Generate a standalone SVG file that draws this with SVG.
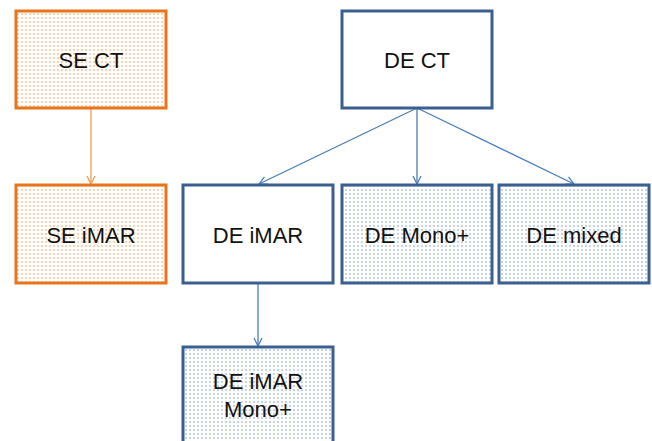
<svg xmlns="http://www.w3.org/2000/svg" width="652" height="441" viewBox="0 0 652 441">
<defs>
<pattern id="dotO" width="4" height="4" patternUnits="userSpaceOnUse"><rect width="4" height="4" fill="#fff"/><rect x="1" y="1" width="2" height="2" fill="#fad2b4"/></pattern>
<pattern id="dotB" width="4" height="4" patternUnits="userSpaceOnUse"><rect width="4" height="4" fill="#fff"/><rect x="1" y="1" width="2" height="2" fill="#c6d4e8"/></pattern>
<marker id="arrB" viewBox="0 0 10 10" refX="9" refY="5" markerWidth="10" markerHeight="10" markerUnits="userSpaceOnUse" orient="auto"><path d="M1,1 L9,5 L1,9" fill="none" stroke="#4a7ebb" stroke-width="1.3"/></marker>
<marker id="arrO" viewBox="0 0 10 10" refX="9" refY="5" markerWidth="10" markerHeight="10" markerUnits="userSpaceOnUse" orient="auto"><path d="M1,1 L9,5 L1,9" fill="none" stroke="#f59b57" stroke-width="1.3"/></marker>
</defs>
<style>
.bo{fill:url(#dotO);stroke:#e8741c;stroke-width:3}
.bb{fill:url(#dotB);stroke:#3b5f91;stroke-width:3}
.bw{fill:#fff;stroke:#3b5f91;stroke-width:3}
text{font-family:"Liberation Sans",Arial,sans-serif;font-size:22px;fill:#111;text-anchor:middle}
.cb{stroke:#4a7ebb;stroke-width:1.3;fill:none;marker-end:url(#arrB)}
.co{stroke:#f59b57;stroke-width:1.3;fill:none;marker-end:url(#arrO)}
</style>
<rect width="652" height="441" fill="#fff"/>
<g id="connectors">
<line class="co" x1="91" y1="108" x2="91" y2="184"/>
<line class="cb" x1="417" y1="108" x2="259" y2="184"/>
<line class="cb" x1="417" y1="108" x2="417" y2="184"/>
<line class="cb" x1="417" y1="108" x2="574" y2="184"/>
<line class="cb" x1="258" y1="283" x2="258" y2="346"/>
</g>
<g id="se-ct"><rect class="bo" x="16" y="11" width="150" height="97"/><text x="91" y="68">SE CT</text></g>
<g id="se-imar"><rect class="bo" x="16" y="185" width="150" height="98"/><text x="91" y="243">SE iMAR</text></g>
<g id="de-ct"><rect class="bw" x="342" y="11" width="150" height="97"/><text x="417" y="68">DE CT</text></g>
<g id="de-imar"><rect class="bw" x="183" y="185" width="150" height="98"/><text x="258" y="243">DE iMAR</text></g>
<g id="de-mono"><rect class="bb" x="342" y="185" width="150" height="98"/><text x="417" y="243">DE Mono+</text></g>
<g id="de-mixed"><rect class="bb" x="499" y="185" width="150" height="98"/><text x="574" y="243">DE mixed</text></g>
<g id="de-imar-mono"><rect class="bb" x="183" y="347" width="150" height="98"/><text x="258" y="389">DE iMAR</text><text x="258" y="417">Mono+</text></g>
</svg>
